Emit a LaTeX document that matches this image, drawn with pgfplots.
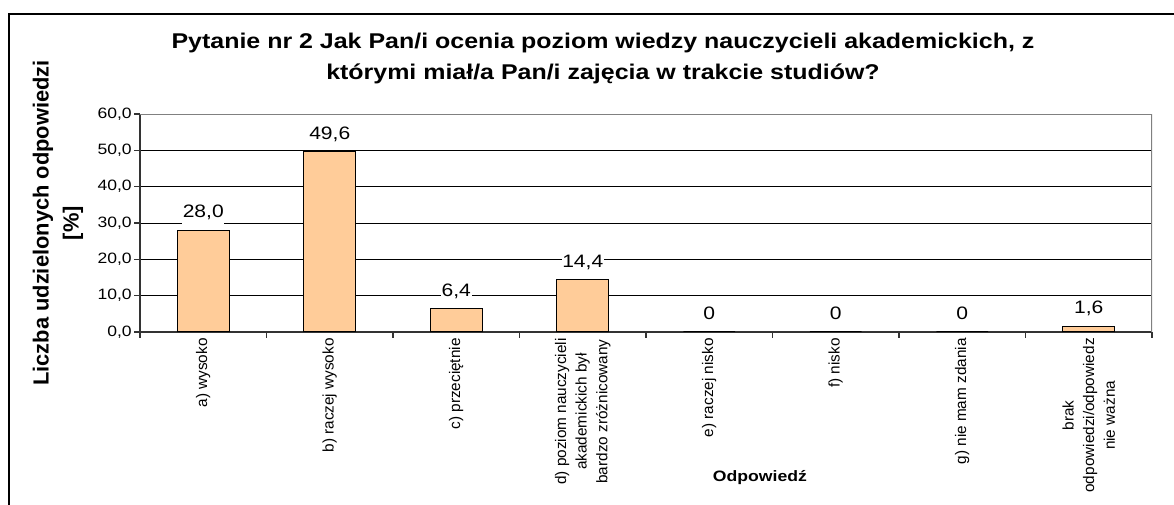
\documentclass[border=0pt]{standalone}
\usepackage{fontspec}
\setmainfont{Liberation Sans}[FakeStretch=1.17]
\newfontfamily\rotfont{Liberation Sans}
\usepackage{pgfplots}
\pgfplotsset{compat=1.18}

\definecolor{barfill}{HTML}{FFCC99}
\definecolor{plotborder}{HTML}{808080}

\begin{document}
\begin{tikzpicture}
% page = 1174 x 505 px, 1 px = 0.75 pt
\useasboundingbox (0,0) rectangle (880.5pt,-378.75pt);
\draw[line width=1.1pt] (6.75pt,-378.75pt) -- (6.75pt,-10.5pt) -- (880.5pt,-10.5pt);
\begin{axis}[
  at={(105pt,-249pt)}, anchor=south west,
  scale only axis, width=759pt, height=163.5pt,
  xmin=0.5, xmax=8.5, ymin=0, ymax=60,
  axis x line*=bottom, axis y line*=left,
  axis line style={black!80, line width=0.9pt},
  xtick={0.5,1.5,...,8.5},
  x tick label as interval,
  xticklabels={a) wysoko, b) raczej wysoko, c) przeciętnie,
    {d) poziom nauczycieli\\akademickich był\\bardzo zróżnicowany},
    e) raczej nisko, f) nisko, g) nie mam zdania,
    {brak\\odpowiedzi/odpowiedz\\nie ważna}},
  xticklabel style={rotate=90, anchor=east, align=center, inner sep=0pt,
    font=\rotfont\fontsize{11.5}{15.5}\selectfont},
  ytick={0,10,...,60},
  yticklabel style={font=\fontsize{11.25}{14}\selectfont, inner sep=0pt, xshift=-1.5pt},
  /pgf/number format/.cd, fixed, fixed zerofill, precision=1, use comma,
    assume math mode=true, /pgfplots/.cd,
  tick align=outside, major tick length=4.5pt,
  tick style={black!80, line width=0.8pt},
  ymajorgrids, grid style={black, line width=0.75pt},
  title={Pytanie nr 2 Jak Pan/i ocenia poziom wiedzy nauczycieli akademickich, z\\którymi miał/a Pan/i zajęcia w trakcie studiów?},
  title style={at={(rel axis cs:0.4575,1.337)}, anchor=north, align=center,
    inner sep=0pt, font=\bfseries\fontsize{16}{23.5}\selectfont},
  ylabel={Liczba udzielonych odpowiedzi\\{[\%]}},
  ylabel style={at={(rel axis cs:-0.081,0.5)}, anchor=center, align=center,
    inner sep=0pt, font=\rotfont\bfseries\fontsize{16.4}{22.5}\selectfont},
  xlabel={Odpowiedź},
  xlabel style={at={(rel axis cs:0.6126,-0.6697)}, anchor=center,
    inner sep=0pt, font=\bfseries\fontsize{11.3}{13}\selectfont},
  point meta=explicit symbolic,
  nodes near coords,
  every node near coord/.append style={anchor=base, yshift=9.5pt,
    fill=white, inner xsep=0.5pt, inner ysep=3pt,
    font=\fontsize{13.5}{15}\selectfont},
]
\addplot[ybar, bar width=38.8pt, fill=barfill, draw=black, line width=0.8pt]
  coordinates {(1,28.0) [28,0] (2,49.6) [49,6] (3,6.4) [6,4] (4,14.4) [14,4]
               (5,0) [0] (6,0) [0] (7,0) [0] (8,1.6) [1,6]};
\draw[plotborder, line width=0.8pt] (rel axis cs:0,1) -- (rel axis cs:1,1) -- (rel axis cs:1,0);
\end{axis}
\end{tikzpicture}
\end{document}
